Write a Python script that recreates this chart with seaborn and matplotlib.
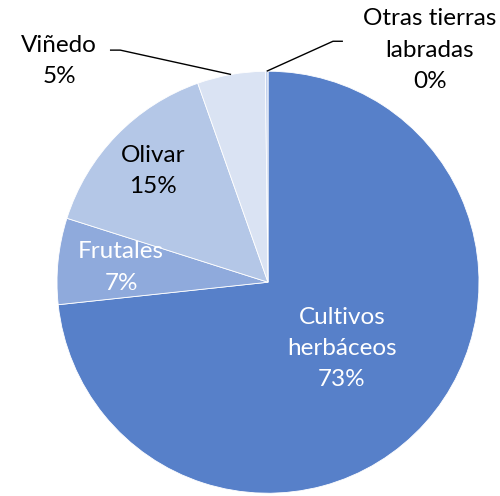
import numpy as np
import matplotlib
matplotlib.use("Agg")
import matplotlib.pyplot as plt
import seaborn as sns

categories = ["Cultivos\nherbáceos", "Frutales", "Olivar", "Viñedo", "Otras tierras\nlabradas"]
shares = [73.3, 6.6, 14.7, 5.2, 0.2]
pct_labels = ["73%", "7%", "15%", "5%", "0%"]
colors = ["#5780C9", "#8FAADC", "#B4C7E7", "#DAE3F3", "#C3D2EE"]
text_colors = ["white", "white", "black", "black", "black"]

sns.set_theme(style="white")
plt.rcParams["font.family"] = ["Lato", "DejaVu Sans"]

fig = plt.figure(figsize=(5, 4.96), dpi=100)
ax = fig.add_axes([0.536 - 0.422, 0.431 - 0.4254, 0.844, 0.8508])

wedges, _ = ax.pie(shares, colors=colors, startangle=90, counterclock=False,
                   radius=1.0, wedgeprops=dict(edgecolor="white", linewidth=0.6))
ax.set_xlim(-1, 1)
ax.set_ylim(-1, 1)
ax.set_aspect("equal")
ax.axis("off")

# inside labels
inside_r = {0: 0.47, 1: 0.70, 2: 0.76}
for i, r in inside_r.items():
    w = wedges[i]
    mid = np.deg2rad((w.theta1 + w.theta2) / 2)
    ax.text(r * np.cos(mid), r * np.sin(mid), f"{categories[i]}\n{pct_labels[i]}",
            ha="center", va="center", fontsize=17.5, color=text_colors[i],
            linespacing=1.6)

# outside labels with leader lines
outside = {
    3: dict(text=(-0.99, 1.05), knee=(-0.70, 1.10), end=(-0.749, 1.10)),
    4: dict(text=(0.768, 1.10), knee=(0.308, 1.142), end=(0.355, 1.142)),
}
for i, o in outside.items():
    w = wedges[i]
    mid = np.deg2rad((w.theta1 + w.theta2) / 2)
    ex, ey = np.cos(mid), np.sin(mid)
    ax.plot([ex, o["knee"][0], o["end"][0]], [ey, o["knee"][1], o["end"][1]],
            color="black", linewidth=1.0, clip_on=False, solid_capstyle="butt")
    ax.text(o["text"][0], o["text"][1], f"{categories[i]}\n{pct_labels[i]}",
            ha="center", va="center", fontsize=17.5, color="black",
            linespacing=1.6, clip_on=False)

fig.savefig("out.png", dpi=100)
